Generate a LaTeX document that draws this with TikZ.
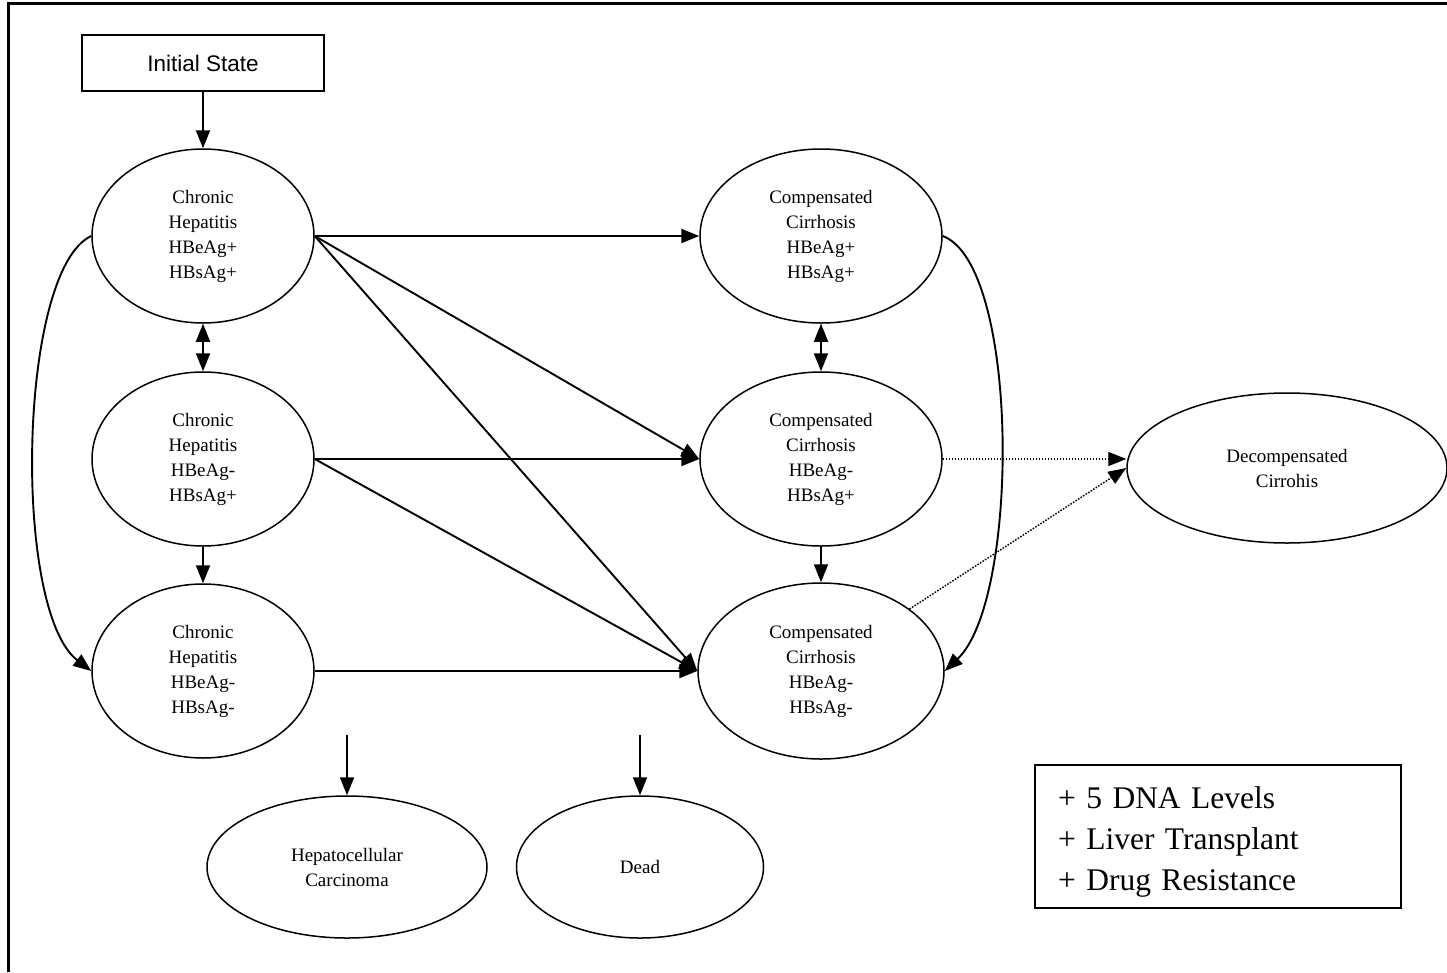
\documentclass[tikz,border=0pt]{standalone}
\usepackage{fontspec}
\setmainfont{Liberation Serif}
\newfontfamily\labelsans{Liberation Sans}
\usetikzlibrary{shapes.geometric,arrows.meta}
\begin{document}
\begin{tikzpicture}[x=1pt,y=-1pt,
  state/.style={draw, ellipse, line width=1.5pt, inner sep=0pt, align=center,
    font=\fontsize{19}{25}\selectfont},
  chr/.style={state, minimum width=222, minimum height=174},
  cir/.style={state, minimum width=242, minimum height=174},
  arr/.style={line width=1.9pt, -{Triangle[length=18pt,width=14pt]}},
  darr/.style={line width=1.9pt, {Triangle[length=18pt,width=14pt]}-{Triangle[length=18pt,width=14pt]}},
  dotarr/.style={line width=1.4pt, dash pattern=on 1.6pt off 1.4pt, -{Triangle[length=18pt,width=14pt]}}
]
\useasboundingbox (0,0) rectangle (1447,972);
\fill[white] (0,0) rectangle (1447,972);
\draw[line width=3pt] (8,972) -- (8,3) -- (1447,3);

\node[draw, line width=1.5pt, minimum width=242, minimum height=56, inner sep=0pt,
  font=\labelsans\fontsize{22.5}{27}\selectfont] (init) at (203,63) {Initial State};

\node[chr] (ch1) at (203,236) {Chronic\\Hepatitis\\HBeAg+\\HBsAg+};
\node[chr] (ch2) at (203,459) {Chronic\\Hepatitis\\HBeAg-\\HBsAg+};
\node[chr] (ch3) at (203,671) {Chronic\\Hepatitis\\HBeAg-\\HBsAg-};

\node[cir] (cc1) at (821,236) {Compensated\\Cirrhosis\\HBeAg+\\HBsAg+};
\node[cir] (cc2) at (821,459) {Compensated\\Cirrhosis\\HBeAg-\\HBsAg+};
\node[cir, minimum width=246, minimum height=176] (cc3) at (821,671) {Compensated\\Cirrhosis\\HBeAg-\\HBsAg-};

\node[state, minimum width=320, minimum height=150] (dec) at (1287,468) {Decompensated\\Cirrohis};

\node[state, minimum width=280, minimum height=142] (hcc) at (347,867) {Hepatocellular\\Carcinoma};
\node[state, minimum width=247, minimum height=142] (dead) at (640,867) {Dead};

\node[draw, line width=1.5pt, minimum width=366, minimum height=143, inner xsep=23pt,
  text width=320, align=left, font=\fontsize{31.5}{41}\selectfont] (legend) at (1218,836.5)
  {\rule{0pt}{39pt}+ 5 DNA Levels\\\strut + Liver Transplant\\\strut + Drug Resistance};

\coordinate (hccin) at (347,735);
\coordinate (deadin) at (640,735);

% vertical links
\draw[arr] (init.south) -- (ch1.north);
\draw[darr] (ch1.south) -- (ch2.north);
\draw[arr] (ch2.south) -- (ch3.north);
\draw[darr] (cc1.south) -- (cc2.north);
\draw[arr] (cc2.south) -- (cc3.north);

% curved links
\draw[arr] (ch1.west) .. controls (18,270) and (12,610) .. (ch3.west);
\draw[arr] (cc1.east) .. controls (1020,265) and (1020,600) .. (cc3.east);

% diagonal / horizontal links
\draw[arr] (ch1.east) -- (cc1.west);
\draw[arr] (ch1.east) -- (cc2.west);
\draw[arr] (ch1.east) -- (cc3.west);
\draw[arr] (ch2.east) -- (cc2.west);
\draw[arr] (ch2.east) -- (cc3.west);
\draw[arr] (ch3.east) -- (cc3.west);

% dotted links
\draw[dotarr] (cc2.east) -- (cc2.east -| dec.west);
\draw[dotarr] (cc3.35) -- (dec.west);

% outcomes
\draw[arr] (hccin) -- (hcc.north);
\draw[arr] (deadin) -- (dead.north);
\end{tikzpicture}
\end{document}
